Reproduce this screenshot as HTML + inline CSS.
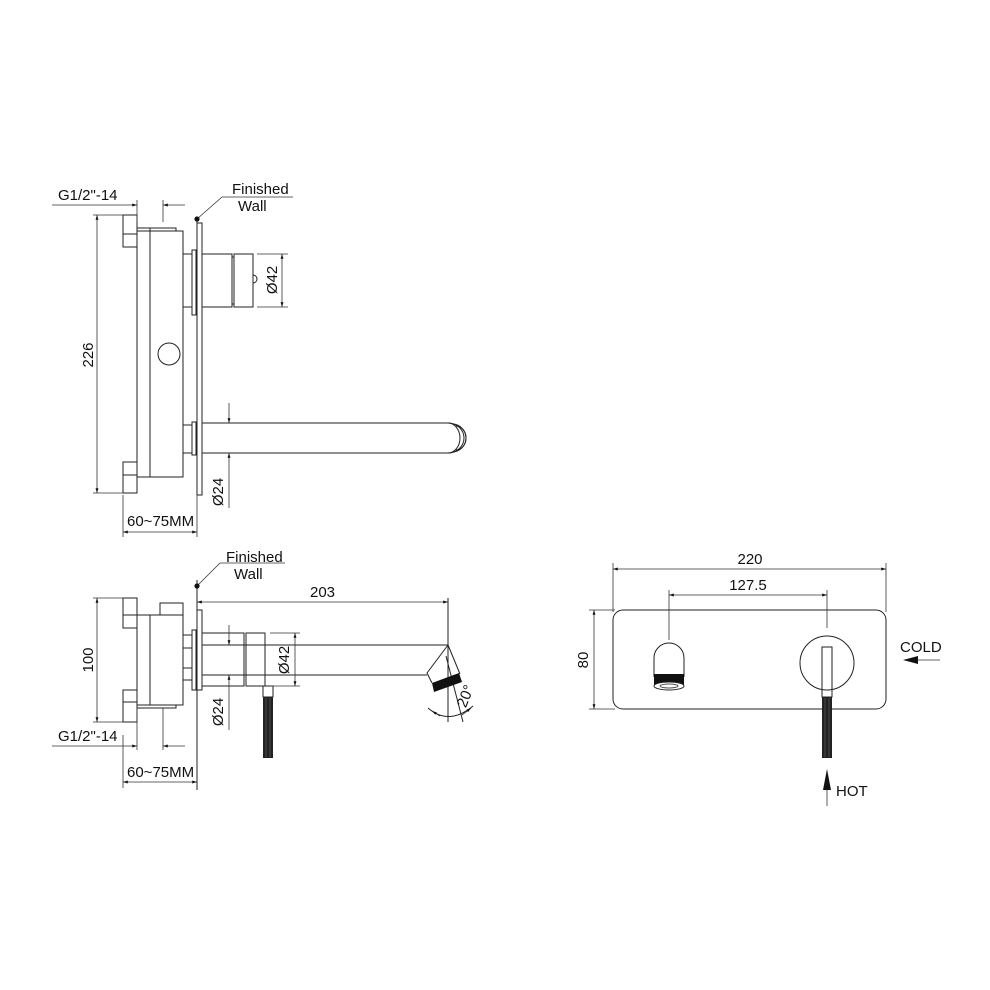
<!DOCTYPE html>
<html><head><meta charset="utf-8"><style>
html,body{margin:0;padding:0;background:#fff}
svg{display:block}
text{font-family:"Liberation Sans",Arial,sans-serif;font-size:15px;fill:#111}
.l{stroke:#222;stroke-width:1;fill:none}
.t{stroke:#333;stroke-width:0.8;fill:none}
</style></head><body>
<svg width="990" height="990" viewBox="0 0 990 990" xmlns="http://www.w3.org/2000/svg">
<defs>
<marker id="a" viewBox="0 0 10 10" refX="10" refY="5" markerWidth="8" markerHeight="6" orient="auto-start-reverse"><path d="M0,2 L10,5 L0,8 z" fill="#111"/></marker>
</defs>

<g class="l">
<rect x="123" y="215" width="14" height="32"/><line x1="123" y1="234" x2="137" y2="234"/>
<rect x="123" y="462" width="14" height="31"/><line x1="123" y1="475" x2="137" y2="475"/>
<rect x="137" y="231" width="46" height="246"/>
<line x1="150" y1="228" x2="150" y2="477"/>
<path d="M137,231 V228 H176 V231"/>
<circle cx="169" cy="354" r="11"/>
<line x1="197" y1="219" x2="197" y2="495"/>
<rect x="197" y="223" width="5" height="272"/>
<rect x="192" y="250" width="4" height="65"/>
<rect x="183" y="254" width="9" height="53"/>
<rect x="202" y="254" width="30" height="53"/>
<rect x="234" y="254" width="19" height="53"/>
<line x1="232" y1="257" x2="234" y2="257"/><line x1="232" y1="304" x2="234" y2="304"/>
<path d="M253,275 A4,4 0 0 1 253,283"/>
<rect x="192" y="422" width="4" height="33"/>
<rect x="183" y="425" width="9" height="28"/>
<path d="M202,423 H448 A12,15 0 0 1 448,453 H202"/>
<path d="M448,423 A16,15 0 0 1 448,453"/>
<path d="M452,424 A14,14 0 0 1 452,452"/>
<path d="M456,426 A10,12 0 0 1 456,450"/>
</g>
<g class="t">
<line x1="93" y1="215" x2="123" y2="215"/><line x1="93" y1="493" x2="123" y2="493"/>
<line x1="97" y1="215" x2="97" y2="493" marker-start="url(#a)" marker-end="url(#a)"/>
<line x1="52" y1="205" x2="137" y2="205" marker-end="url(#a)"/>
<line x1="185" y1="205" x2="163" y2="205" marker-end="url(#a)"/>
<line x1="137" y1="200" x2="137" y2="222"/><line x1="163" y1="200" x2="163" y2="222"/>
<line x1="123" y1="495" x2="123" y2="537"/><line x1="197" y1="495" x2="197" y2="537"/>
<line x1="123" y1="532" x2="197" y2="532" marker-start="url(#a)" marker-end="url(#a)"/>
<line x1="257" y1="254" x2="288" y2="254"/><line x1="257" y1="307" x2="288" y2="307"/>
<line x1="282" y1="254" x2="282" y2="307" marker-start="url(#a)" marker-end="url(#a)"/>
<line x1="229" y1="403" x2="229" y2="423" marker-end="url(#a)"/>
<line x1="229" y1="508" x2="229" y2="453" marker-end="url(#a)"/>
<line x1="197" y1="219" x2="222" y2="197"/><line x1="222" y1="197" x2="293" y2="197"/>
</g>
<circle cx="197" cy="219" r="2.6" fill="#111"/>
<text x="232" y="194">Finished</text>
<text x="238" y="211">Wall</text>
<text x="58" y="200">G1/2"-14</text>
<text x="127" y="526">60~75MM</text>
<text transform="translate(93,355) rotate(-90)" text-anchor="middle">226</text>
<text transform="translate(277,280) rotate(-90)" text-anchor="middle">Ø42</text>
<text transform="translate(223,492) rotate(-90)" text-anchor="middle">Ø24</text>

<g class="l">
<rect x="123" y="598" width="14" height="30"/><line x1="123" y1="615" x2="137" y2="615"/>
<rect x="123" y="690" width="14" height="32"/><line x1="123" y1="702" x2="137" y2="702"/>
<rect x="137" y="615" width="46" height="90"/>
<line x1="150" y1="615" x2="150" y2="705"/>
<rect x="160" y="603" width="23" height="12"/>
<path d="M137,705 V708 H176 V705"/>
<line x1="197" y1="580" x2="197" y2="790"/>
<rect x="197" y="610" width="5" height="80"/>
<rect x="192" y="630" width="4" height="60"/>
<rect x="183" y="635" width="9" height="45"/>
<line x1="183" y1="648" x2="192" y2="648"/><line x1="183" y1="668" x2="192" y2="668"/>
<rect x="202" y="633" width="42" height="53"/>
<rect x="246" y="633" width="19" height="53"/>
<line x1="202" y1="645" x2="448" y2="645"/>
<line x1="202" y1="675" x2="427" y2="675"/>
<path d="M448,645 L427,673 L432,683"/>
<line x1="448" y1="645" x2="460" y2="674"/>
<line x1="448" y1="598" x2="448" y2="722"/>
<line x1="446" y1="656" x2="463" y2="722"/>
<path d="M428,708 Q449,726 473,706"/>
<rect x="263" y="686" width="10" height="11"/>
</g>
<polygon points="432,683 459,673 462,682 434,692" fill="#111"/>
<rect x="263" y="697" width="10" height="61" fill="#222"/>
<line x1="266" y1="698" x2="266" y2="757" stroke="#666" stroke-width="0.6"/>
<line x1="270" y1="698" x2="270" y2="757" stroke="#666" stroke-width="0.6"/>
<g class="t">
<line x1="93" y1="598" x2="123" y2="598"/><line x1="93" y1="722" x2="123" y2="722"/>
<line x1="97" y1="598" x2="97" y2="722" marker-start="url(#a)" marker-end="url(#a)"/>
<line x1="52" y1="746" x2="137" y2="746" marker-end="url(#a)"/>
<line x1="185" y1="746" x2="163" y2="746" marker-end="url(#a)"/>
<line x1="137" y1="708" x2="137" y2="750"/><line x1="163" y1="708" x2="163" y2="750"/>
<line x1="123" y1="735" x2="123" y2="788"/>
<line x1="123" y1="782" x2="197" y2="782" marker-start="url(#a)" marker-end="url(#a)"/>
<line x1="197" y1="602" x2="448" y2="602" marker-start="url(#a)" marker-end="url(#a)"/>
<line x1="270" y1="633" x2="300" y2="633"/><line x1="270" y1="686" x2="300" y2="686"/>
<line x1="295" y1="633" x2="295" y2="686" marker-start="url(#a)" marker-end="url(#a)"/>
<line x1="229" y1="625" x2="229" y2="645" marker-end="url(#a)"/>
<line x1="229" y1="730" x2="229" y2="675" marker-end="url(#a)"/>
<line x1="197" y1="586" x2="220" y2="563"/><line x1="220" y1="563" x2="285" y2="563"/>
<line x1="440" y1="716" x2="432" y2="711" marker-end="url(#a)"/>
<line x1="462" y1="715" x2="471" y2="708" marker-end="url(#a)"/>
</g>
<circle cx="197" cy="586" r="2.6" fill="#111"/>
<text x="226" y="562">Finished</text>
<text x="234" y="579">Wall</text>
<text x="310" y="597">203</text>
<text x="58" y="741">G1/2"-14</text>
<text x="127" y="777">60~75MM</text>
<text transform="translate(93,660) rotate(-90)" text-anchor="middle">100</text>
<text transform="translate(289,660) rotate(-90)" text-anchor="middle">Ø42</text>
<text transform="translate(223,712) rotate(-90)" text-anchor="middle">Ø24</text>
<text transform="translate(470,698) rotate(-68)" text-anchor="middle">20°</text>

<g class="l">
<rect x="613" y="610" width="273" height="99" rx="10"/>
<path d="M654,677 V658 A15,15 0 0 1 684,658 V677"/>
<circle cx="827" cy="663" r="27"/>
<rect x="822" y="647" width="10" height="50"/>
</g>
<rect x="654" y="674" width="30" height="11" fill="#111"/>
<ellipse cx="669" cy="686" rx="15" ry="4" fill="#fff" stroke="#222"/>
<ellipse cx="669" cy="686" rx="9" ry="2" fill="none" stroke="#555"/>
<rect x="822" y="697" width="10" height="61" fill="#222"/>
<line x1="825" y1="698" x2="825" y2="757" stroke="#666" stroke-width="0.6"/>
<line x1="829" y1="698" x2="829" y2="757" stroke="#666" stroke-width="0.6"/>
<g class="t">
<line x1="613" y1="563" x2="613" y2="612"/><line x1="886" y1="563" x2="886" y2="612"/>
<line x1="613" y1="569" x2="886" y2="569" marker-start="url(#a)" marker-end="url(#a)"/>
<line x1="669" y1="590" x2="669" y2="640"/><line x1="827" y1="590" x2="827" y2="628"/>
<line x1="669" y1="595" x2="827" y2="595" marker-start="url(#a)" marker-end="url(#a)"/>
<line x1="589" y1="610" x2="615" y2="610"/><line x1="589" y1="709" x2="615" y2="709"/>
<line x1="594" y1="610" x2="594" y2="709" marker-start="url(#a)" marker-end="url(#a)"/>
<line x1="940" y1="660" x2="905" y2="660"/>
<line x1="827" y1="806" x2="827" y2="771"/>
</g>
<polygon points="903,660 918,656 918,664" fill="#111"/>
<polygon points="827,769 823,790 831,790" fill="#111"/>
<text x="750" y="564" text-anchor="middle">220</text>
<text x="748" y="590" text-anchor="middle">127.5</text>
<text transform="translate(588,660) rotate(-90)" text-anchor="middle">80</text>
<text x="900" y="652">COLD</text>
<text x="836" y="796">HOT</text>
</svg>
</body></html>
